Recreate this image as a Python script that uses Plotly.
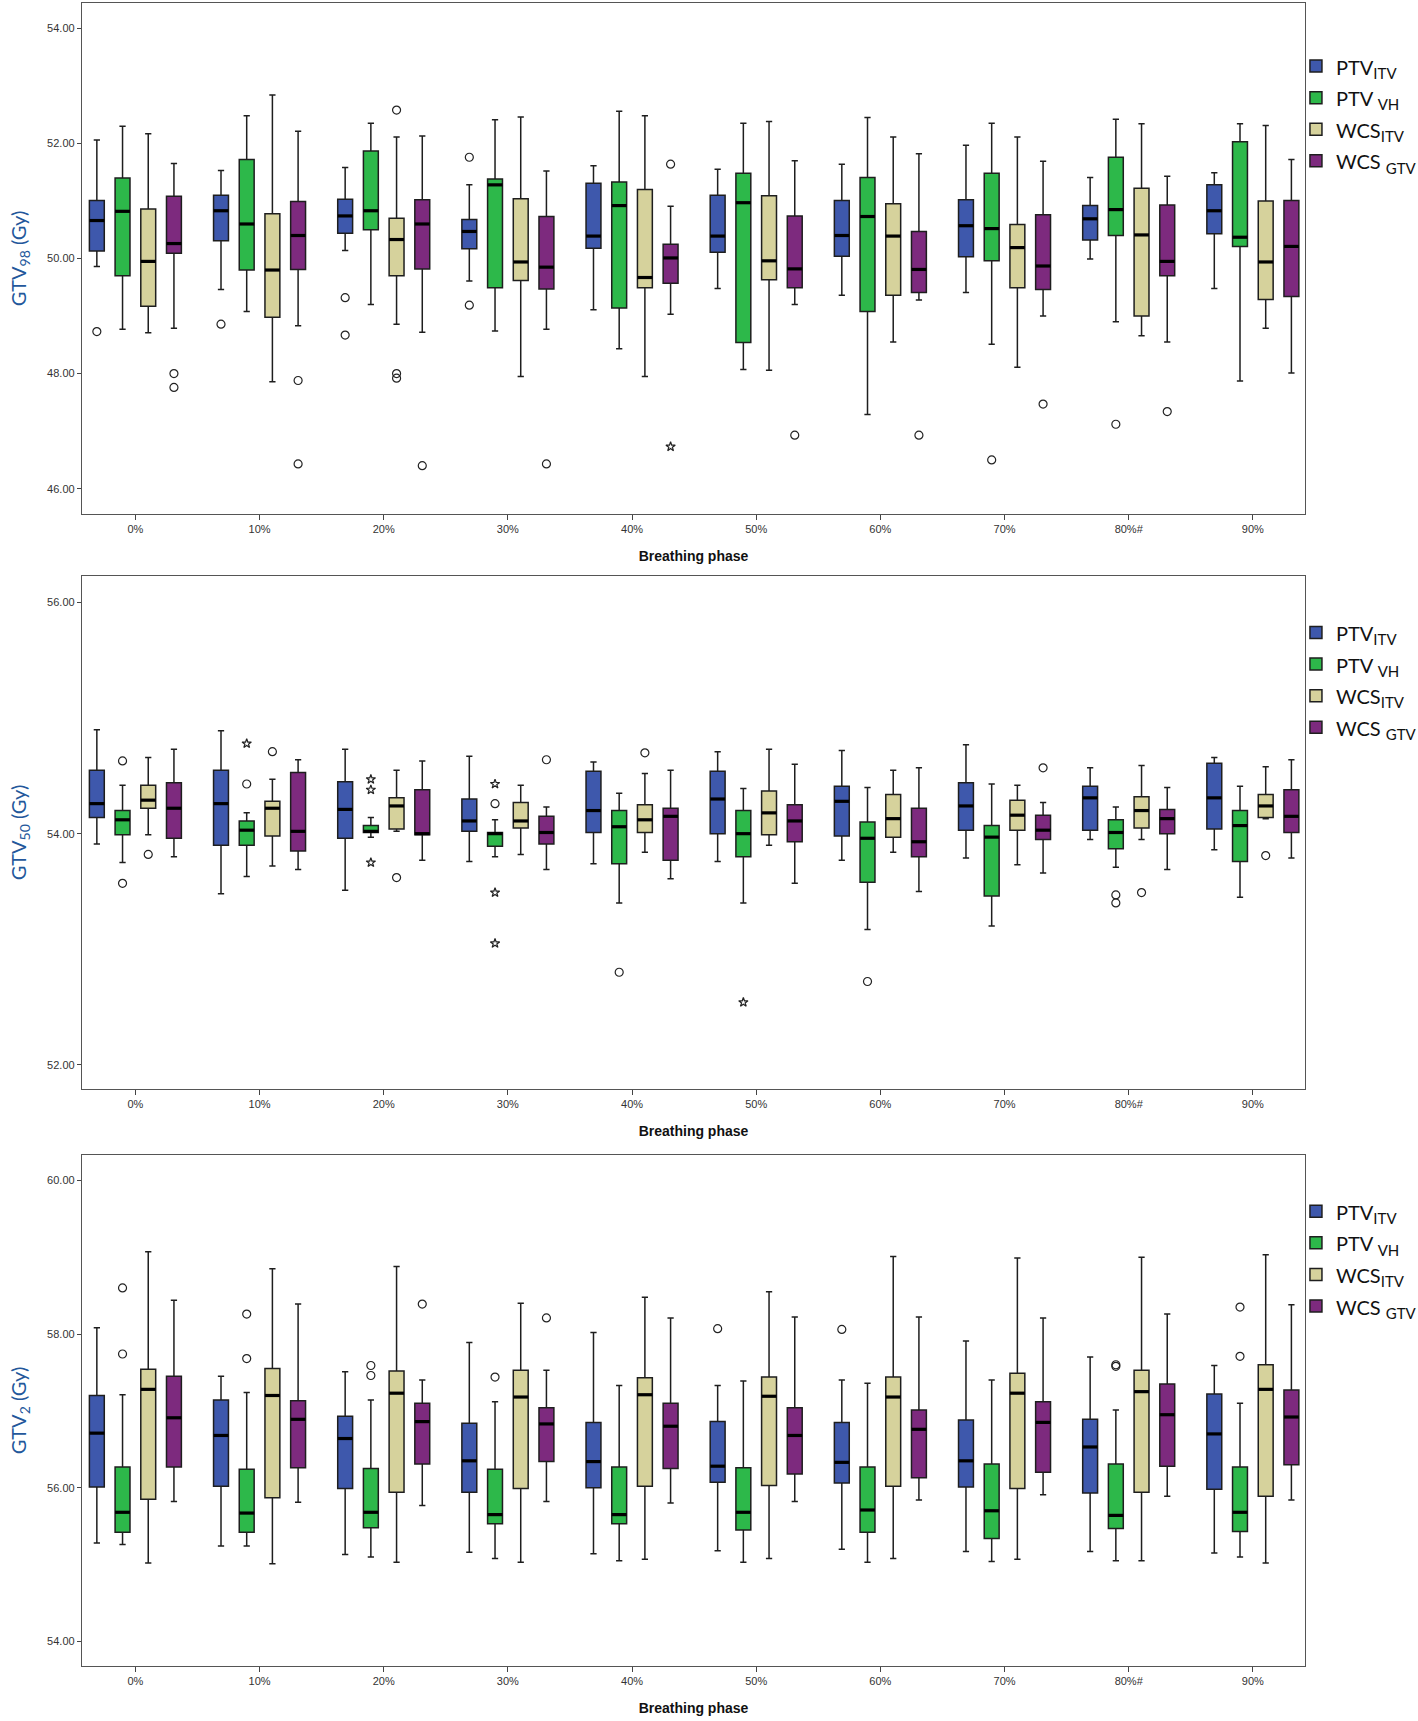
import plotly.graph_objects as go
from plotly.subplots import make_subplots

# ---------------- categories ----------------
phases = ["0%", "10%", "20%", "30%", "40%", "50%", "60%", "70%", "80%#", "90%"]
group_main = ["PTV", "PTV ", "WCS", "WCS "]
group_sub = ["ITV", "VH", "ITV", "GTV"]
colors = ["#3E58AC", "#2DB84A", "#D6D29C", "#7D2A7E"]

# ---------------- GTV98 ----------------
# each list: [PTV_ITV, PTV_VH, WCS_ITV, WCS_GTV], 10 phases each
g98_upper = [
    [52.06, 51.53, 51.58, 51.28, 51.61, 51.55, 51.64, 51.97, 51.41, 51.49],
    [52.30, 52.48, 52.35, 52.41, 52.56, 52.35, 52.45, 52.35, 52.42, 52.34],
    [52.17, 52.84, 52.11, 52.46, 52.48, 52.38, 52.11, 52.11, 52.34, 52.31],
    [51.65, 52.21, 52.13, 51.52, 50.91, 51.70, 51.82, 51.69, 51.43, 51.72],
]
g98_q3 = [
    [51.01, 51.10, 51.03, 50.68, 51.31, 51.10, 51.01, 51.02, 50.92, 51.28],
    [51.40, 51.72, 51.87, 51.38, 51.33, 51.48, 51.41, 51.48, 51.76, 52.03],
    [50.86, 50.78, 50.70, 51.04, 51.20, 51.09, 50.95, 50.59, 51.22, 51.00],
    [51.08, 50.99, 51.02, 50.73, 50.25, 50.74, 50.47, 50.76, 50.93, 51.01],
]
g98_median = [
    [50.66, 50.83, 50.74, 50.47, 50.39, 50.39, 50.40, 50.57, 50.69, 50.83],
    [50.82, 50.60, 50.83, 51.28, 50.92, 50.97, 50.73, 50.52, 50.85, 50.37],
    [49.95, 49.80, 50.33, 49.94, 49.67, 49.96, 50.39, 50.19, 50.41, 49.94],
    [50.26, 50.40, 50.60, 49.85, 50.01, 49.82, 49.81, 49.87, 49.95, 50.21],
]
g98_q1 = [
    [50.13, 50.31, 50.44, 50.17, 50.18, 50.11, 50.04, 50.03, 50.32, 50.43],
    [49.70, 49.80, 50.50, 49.49, 49.14, 48.54, 49.08, 49.96, 50.40, 50.21],
    [49.17, 48.98, 49.70, 49.62, 49.49, 49.63, 49.36, 49.49, 49.00, 49.29],
    [50.09, 49.81, 49.82, 49.47, 49.57, 49.49, 49.41, 49.46, 49.70, 49.34],
]
g98_lower = [
    [49.86, 49.46, 50.14, 49.61, 49.11, 49.48, 49.36, 49.41, 49.99, 49.48],
    [48.77, 49.08, 49.20, 48.74, 48.43, 48.07, 47.29, 48.51, 48.90, 47.87],
    [48.71, 47.86, 48.86, 47.95, 47.95, 48.06, 48.55, 48.11, 48.66, 48.79],
    [48.79, 48.83, 48.72, 48.77, 49.03, 49.20, 49.28, 49.00, 48.55, 48.01],
]
# outliers: (phase index, group index, value, kind) kind: 'o' circle, '*' extreme
g98_outliers = [
    (0, 0, 48.73, "o"), (0, 3, 48.00, "o"), (0, 3, 47.76, "o"),
    (1, 0, 48.86, "o"), (1, 3, 47.88, "o"), (1, 3, 46.43, "o"),
    (2, 0, 49.32, "o"), (2, 0, 48.67, "o"), (2, 2, 52.58, "o"), (2, 2, 48.00, "o"),
    (2, 2, 47.92, "o"), (2, 3, 46.40, "o"),
    (3, 0, 51.76, "o"), (3, 0, 49.19, "o"), (3, 3, 46.43, "o"),
    (4, 3, 51.64, "o"), (4, 3, 46.73, "*"),
    (5, 3, 46.93, "o"), (6, 3, 46.93, "o"),
    (7, 1, 46.50, "o"), (7, 3, 47.47, "o"),
    (8, 1, 47.12, "o"), (8, 3, 47.34, "o"),
]

# ---------------- GTV50 ----------------
g50_upper = [
    [54.90, 54.89, 54.73, 54.67, 54.62, 54.71, 54.72, 54.77, 54.57, 54.66],
    [54.42, 54.18, 54.14, 54.12, 54.35, 54.39, 54.40, 54.43, 54.23, 54.41],
    [54.66, 54.47, 54.55, 54.42, 54.52, 54.73, 54.55, 54.42, 54.59, 54.58],
    [54.73, 54.64, 54.63, 54.23, 54.55, 54.60, 54.57, 54.27, 54.40, 54.64],
]
g50_q3 = [
    [54.55, 54.55, 54.45, 54.30, 54.54, 54.54, 54.41, 54.44, 54.41, 54.61],
    [54.20, 54.11, 54.07, 54.01, 54.20, 54.20, 54.10, 54.07, 54.12, 54.20],
    [54.42, 54.28, 54.31, 54.27, 54.25, 54.37, 54.34, 54.29, 54.32, 54.34],
    [54.44, 54.53, 54.38, 54.15, 54.22, 54.25, 54.22, 54.16, 54.21, 54.38],
]
g50_median = [
    [54.26, 54.26, 54.21, 54.11, 54.20, 54.30, 54.28, 54.24, 54.31, 54.31],
    [54.12, 54.03, 54.02, 54.00, 54.06, 54.00, 53.96, 53.97, 54.01, 54.07],
    [54.29, 54.22, 54.24, 54.11, 54.12, 54.18, 54.13, 54.16, 54.20, 54.24],
    [54.22, 54.02, 54.00, 54.01, 54.15, 54.11, 53.93, 54.03, 54.13, 54.15],
]
g50_q1 = [
    [54.14, 53.90, 53.96, 54.02, 54.01, 54.00, 53.98, 54.03, 54.03, 54.04],
    [53.99, 53.90, 54.01, 53.89, 53.74, 53.80, 53.58, 53.46, 53.87, 53.76],
    [54.22, 53.98, 54.04, 54.05, 54.01, 53.99, 53.97, 54.03, 54.05, 54.14],
    [53.96, 53.85, 53.99, 53.91, 53.77, 53.93, 53.80, 53.95, 54.00, 54.01],
]
g50_lower = [
    [53.91, 53.48, 53.51, 53.76, 53.74, 53.76, 53.77, 53.79, 53.95, 53.86],
    [53.75, 53.63, 53.97, 53.80, 53.40, 53.40, 53.17, 53.20, 53.71, 53.45],
    [53.99, 53.72, 54.02, 53.82, 53.84, 53.90, 53.84, 53.73, 53.95, 54.13],
    [53.80, 53.69, 53.77, 53.69, 53.61, 53.57, 53.50, 53.66, 53.69, 53.79],
]
g50_outliers = [
    (0, 1, 54.63, "o"), (0, 1, 53.57, "o"), (0, 2, 53.82, "o"),
    (1, 1, 54.78, "*"), (1, 1, 54.43, "o"), (1, 2, 54.71, "o"),
    (2, 1, 54.47, "*"), (2, 1, 54.38, "*"), (2, 1, 53.75, "*"), (2, 2, 53.62, "o"),
    (3, 1, 54.43, "*"), (3, 1, 54.26, "o"), (3, 1, 53.49, "*"), (3, 1, 53.05, "*"),
    (3, 3, 54.64, "o"),
    (4, 1, 52.80, "o"), (4, 2, 54.70, "o"),
    (5, 1, 52.54, "*"),
    (6, 1, 52.72, "o"),
    (7, 3, 54.57, "o"),
    (8, 1, 53.47, "o"), (8, 1, 53.40, "o"), (8, 2, 53.49, "o"),
    (9, 2, 53.81, "o"),
]

# ---------------- GTV2 ----------------
g2_upper = [
    [58.08, 57.45, 57.51, 57.89, 58.02, 57.33, 57.40, 57.91, 57.70, 57.59],
    [57.21, 57.24, 57.14, 57.12, 57.33, 57.39, 57.36, 57.40, 57.01, 57.10],
    [59.07, 58.85, 58.88, 58.40, 58.48, 58.55, 59.01, 58.99, 59.00, 59.03],
    [58.44, 58.39, 57.40, 57.53, 58.21, 58.22, 58.22, 58.21, 58.26, 58.38],
]
g2_q3 = [
    [57.20, 57.14, 56.93, 56.84, 56.85, 56.86, 56.85, 56.88, 56.89, 57.22],
    [56.27, 56.24, 56.25, 56.24, 56.27, 56.26, 56.27, 56.31, 56.31, 56.27],
    [57.54, 57.55, 57.52, 57.53, 57.43, 57.44, 57.44, 57.49, 57.53, 57.60],
    [57.45, 57.13, 57.10, 57.04, 57.10, 57.04, 57.01, 57.12, 57.35, 57.27],
]
g2_median = [
    [56.71, 56.68, 56.64, 56.35, 56.34, 56.28, 56.33, 56.35, 56.53, 56.70],
    [55.68, 55.67, 55.68, 55.65, 55.65, 55.68, 55.71, 55.70, 55.64, 55.68],
    [57.28, 57.20, 57.23, 57.18, 57.21, 57.19, 57.18, 57.23, 57.25, 57.28],
    [56.91, 56.89, 56.86, 56.83, 56.80, 56.68, 56.76, 56.85, 56.95, 56.92],
]
g2_q1 = [
    [56.01, 56.02, 55.99, 55.94, 56.00, 56.07, 56.06, 56.01, 55.93, 55.98],
    [55.42, 55.42, 55.48, 55.53, 55.53, 55.45, 55.42, 55.34, 55.47, 55.43],
    [55.85, 55.87, 55.94, 55.99, 56.02, 56.03, 56.02, 55.99, 55.94, 55.89],
    [56.27, 56.26, 56.31, 56.34, 56.25, 56.18, 56.13, 56.20, 56.28, 56.30],
]
g2_lower = [
    [55.28, 55.24, 55.13, 55.16, 55.14, 55.18, 55.20, 55.17, 55.17, 55.15],
    [55.26, 55.24, 55.10, 55.08, 55.05, 55.03, 55.03, 55.04, 55.05, 55.10],
    [55.02, 55.01, 55.03, 55.03, 55.07, 55.08, 55.08, 55.07, 55.05, 55.02],
    [55.82, 55.81, 55.77, 55.82, 55.80, 55.82, 55.84, 55.91, 55.89, 55.84],
]
g2_outliers = [
    (0, 1, 58.60, "o"), (0, 1, 57.74, "o"),
    (1, 1, 58.26, "o"), (1, 1, 57.68, "o"),
    (2, 1, 57.59, "o"), (2, 1, 57.46, "o"), (2, 3, 58.39, "o"),
    (3, 1, 57.44, "o"), (3, 3, 58.21, "o"),
    (5, 0, 58.07, "o"), (6, 0, 58.06, "o"),
    (8, 1, 57.60, "o"), (8, 1, 57.58, "o"),
    (9, 1, 58.35, "o"), (9, 1, 57.71, "o"),
]

y_titles = ["GTV<sub>98</sub> (Gy)", "GTV<sub>50</sub> (Gy)", "GTV<sub>2</sub> (Gy)"]

# ---------------- build ----------------
panels = [
    (g98_upper, g98_q3, g98_median, g98_q1, g98_lower, g98_outliers, [45.56, 54.44]),
    (g50_upper, g50_q3, g50_median, g50_q1, g50_lower, g50_outliers, [51.79, 56.23]),
    (g2_upper, g2_q3, g2_median, g2_q1, g2_lower, g2_outliers, [53.68, 60.33]),
]

GROUP_STEP = 0.207
BOX_W = 0.12
offsets = [(g - 1.5) * GROUP_STEP for g in range(4)]
legend_ids = ["legend", "legend2", "legend3"]
domains = [(0.6927, 1.0), (0.3470, 0.6554), (0.0, 0.3073)]
legend_tops = [0.9746, 0.634, 0.286]

legend_names = [
    f"<span style='font-size:20px'>{m}<sub><span style='font-size:15px'>{s}</span></sub></span>"
    for m, s in zip(group_main, group_sub)
]

fig = make_subplots(rows=3, cols=1)

for r, (up, q3, med, q1, lo, outl, yr) in enumerate(panels):
    row = r + 1
    for g in range(4):
        xs = [i + offsets[g] for i in range(len(phases))]
        fig.add_trace(go.Box(
            x=xs, q1=q1[g], median=med[g], q3=q3[g],
            lowerfence=lo[g], upperfence=up[g],
            width=BOX_W, fillcolor=colors[g],
            line=dict(color="#1e1e1e", width=1.5),
            whiskerwidth=0.42, boxpoints=False,
            name=legend_names[g], legend=legend_ids[r], showlegend=True,
            hoverinfo="skip",
        ), row=row, col=1)
        # thick median bars
        mx, my = [], []
        for i, x in enumerate(xs):
            mx += [x - BOX_W / 2, x + BOX_W / 2, None]
            my += [med[g][i], med[g][i], None]
        fig.add_trace(go.Scatter(
            x=mx, y=my, mode="lines", line=dict(color="black", width=3.2),
            showlegend=False, hoverinfo="skip",
        ), row=row, col=1)
    for kind, sym, size, lw in [("o", "circle-open", 8, 1.2), ("*", "star-open", 7, 1.2)]:
        pts = [p for p in outl if p[3] == kind]
        if not pts:
            continue
        fig.add_trace(go.Scatter(
            x=[p[0] + offsets[p[1]] for p in pts],
            y=[p[2] for p in pts],
            mode="markers",
            marker=dict(symbol=sym, size=size, color="#222",
                        line=dict(color="#222", width=lw)),
            showlegend=False, hoverinfo="skip",
        ), row=row, col=1)

    xa = "xaxis" if r == 0 else f"xaxis{row}"
    ya = "yaxis" if r == 0 else f"yaxis{row}"
    fig.layout[xa].update(
        domain=[0, 1], range=[-0.43, 9.42],
        tickmode="array", tickvals=list(range(len(phases))), ticktext=phases,
        ticks="outside", ticklen=5, tickcolor="#444",
        showline=True, mirror=True, linecolor="#555", linewidth=1.3,
        showgrid=False, zeroline=False, automargin=False,
        tickfont=dict(family="Liberation Sans, Arial", size=11, color="#333"),
        title=dict(text="<b>Breathing phase</b>", standoff=16,
                   font=dict(family="Liberation Sans, Arial", size=14, color="#111")),
    )
    fig.layout[ya].update(
        domain=list(domains[r]), range=yr, dtick=2, tick0=0, tickformat=".2f",
        ticks="outside", ticklen=4, tickcolor="#444",
        showline=True, mirror=True, linecolor="#555", linewidth=1.3,
        showgrid=False, zeroline=False, automargin=False,
        tickfont=dict(family="Liberation Sans, Arial", size=11, color="#333"),
        title=dict(text=y_titles[r], standoff=15,
                   font=dict(family="Lato, Open Sans", size=20, color="#23579B")),
    )

legend_common = dict(
    x=0.9926, xanchor="left", yanchor="top",
    font=dict(family="Lato, Open Sans", size=22, color="#111"),
    bgcolor="rgba(0,0,0,0)", tracegroupgap=0, itemclick=False,
)
fig.update_layout(
    legend=dict(y=legend_tops[0], **legend_common),
    legend2=dict(y=legend_tops[1], **legend_common),
    legend3=dict(y=legend_tops[2], **legend_common),
)

fig.update_layout(
    width=1418, height=1721,
    margin=dict(l=82, r=113, t=3, b=55, autoexpand=False),
    paper_bgcolor="white", plot_bgcolor="white",
    boxmode="overlay",
)

fig.write_html("out.html", config={"displayModeBar": False},
               post_script="document.body.style.margin='0px';")
